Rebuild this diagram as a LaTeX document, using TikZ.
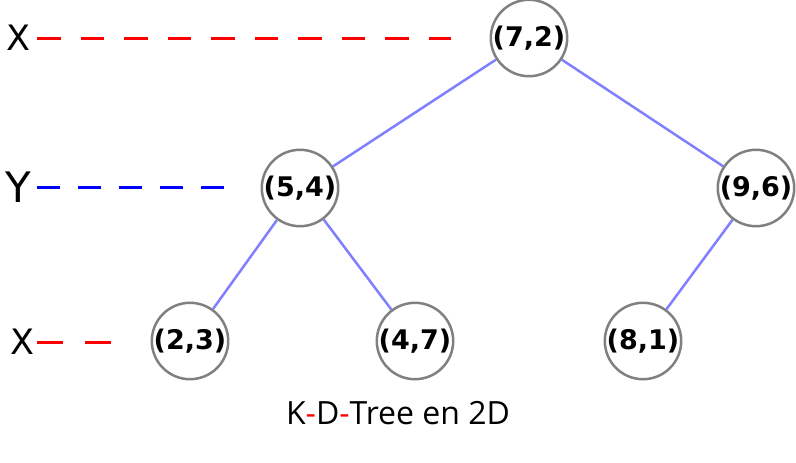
\documentclass[tikz,border=0pt]{standalone}
\usepackage{fontspec}
\setmainfont{DejaVu Sans}
\newfontfamily\captionfont{Open Sans}
\definecolor{edgeblue}{RGB}{128,128,255}
\definecolor{ringgray}{RGB}{128,128,128}
\tikzset{
  kdnode/.style={draw=ringgray, line width=2.5pt, circle, minimum size=76pt, inner sep=0pt, font=\fontsize{27}{27}\selectfont\bfseries},
  kdedge/.style={edgeblue, line width=2.5pt},
  axisline/.style={line width=3pt, dash pattern=on 23.5pt off 20pt},
  axislabel/.style={anchor=west, inner sep=0pt, font=\fontsize{35}{35}\selectfont}
}
\begin{document}
\begin{tikzpicture}[x=1pt,y=-1pt]
\useasboundingbox (0,0) rectangle (796,463);
\node[kdnode] (P72)at(529, 38) {(7,2)};
\node[kdnode] (P54)at(300, 188) {(5,4)};
\node[kdnode] (P96)at(756, 188) {(9,6)};
\node[kdnode] (P23)at(190, 341) {(2,3)};
\node[kdnode] (P47)at(415, 341) {(4,7)};
\node[kdnode] (P81)at(643, 341) {(8,1)};
\draw[kdedge] (P72) -- (P54);
\draw[kdedge] (P72) -- (P96);
\draw[kdedge] (P54) -- (P23);
\draw[kdedge] (P54) -- (P47);
\draw[kdedge] (P96) -- (P81);
% axis labels
\node[axislabel] (LX1)at(6, 38) {X};
\node[axislabel, font=\fontsize{42}{42}\selectfont] (LY)at(5, 187) {Y};
\node[axislabel] (LX2)at(10, 342) {X};
\coordinate (EX1)at(451, 38);
\coordinate (EY)at(225, 187);
\coordinate (EX2)at(111, 342);
\draw[axisline, red] (37, 38) -- (EX1);
\draw[axisline, blue, dash pattern=on 23pt off 18pt] (37, 187) -- (EY);
\draw[axisline, red, dash pattern=on 26pt off 22pt] (37, 342) -- (EX2);
\node[font=\captionfont\fontsize{32}{32}\selectfont] (caption)at(398, 413) {K\textcolor{red}{-}D\textcolor{red}{-}Tree en 2D};
\end{tikzpicture}
\end{document}
